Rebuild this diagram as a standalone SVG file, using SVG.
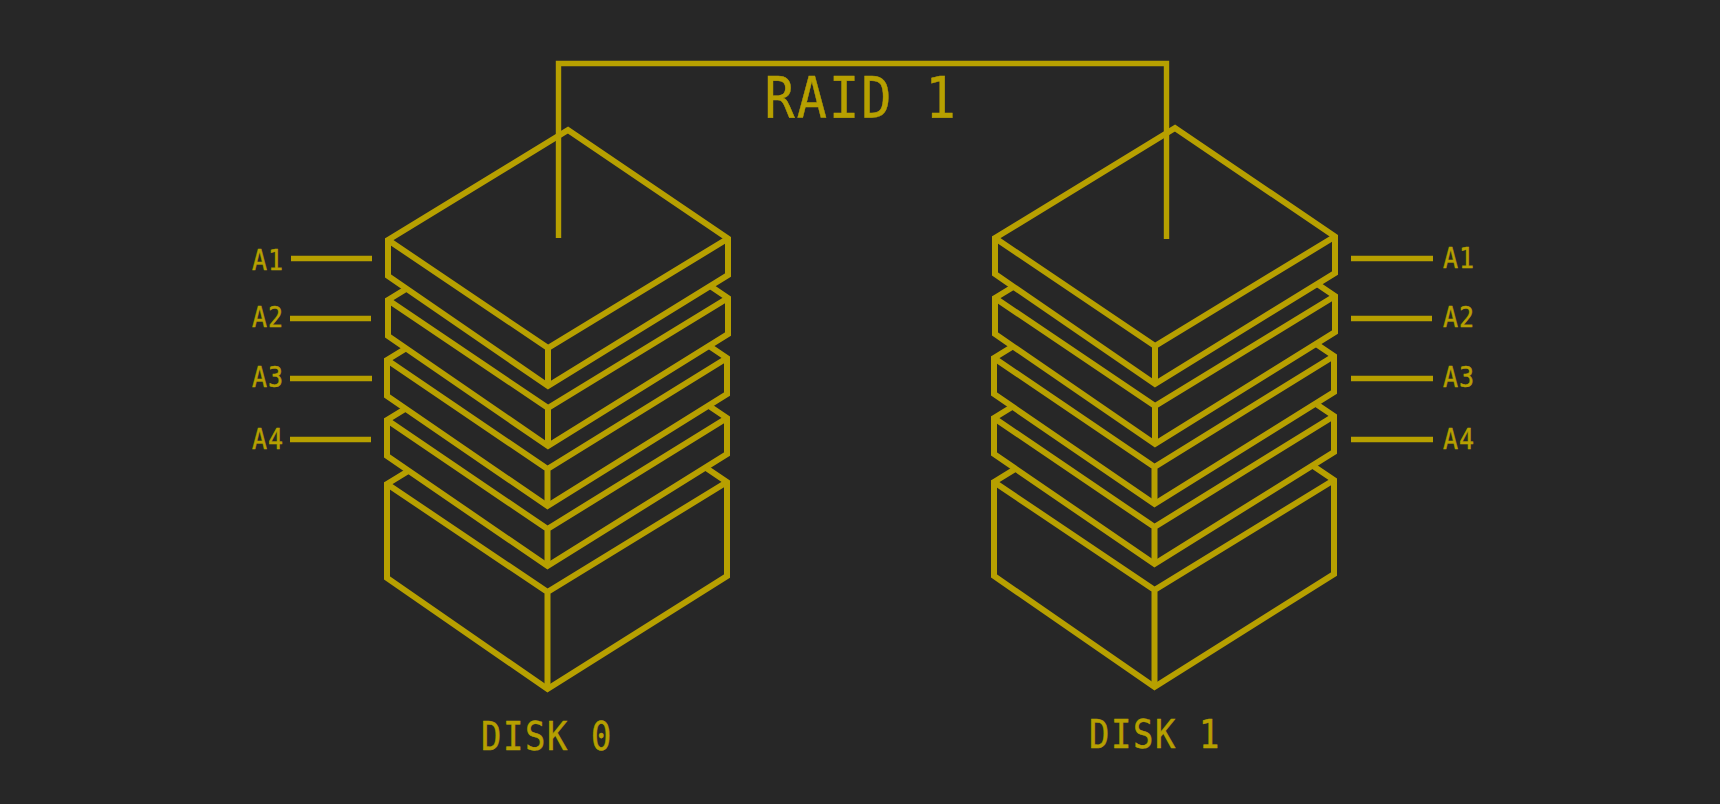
<svg xmlns="http://www.w3.org/2000/svg" width="1720" height="804" viewBox="0 0 1720 804">
<style>
.bg{fill:#272727}
.p{fill:#272727;stroke:#b7a000;stroke-width:6;stroke-linejoin:miter;stroke-miterlimit:10}
.e{fill:none;stroke:#b7a000;stroke-width:6;stroke-linejoin:miter;stroke-miterlimit:10}
.c{fill:none;stroke:#b7a000;stroke-width:5.4;stroke-linejoin:miter;stroke-linecap:butt}
text{font-family:"DejaVu Sans Mono","Liberation Mono",monospace;fill:#b7a000;stroke:#b7a000;stroke-width:.5px}
.t{font-size:57px;letter-spacing:2.3px}
.d{font-size:38.4px;letter-spacing:1.9px}
.l{font-size:28.4px;letter-spacing:1px}
</style>
<rect class="bg" width="1720" height="804"/>
<g id="disk0">
<g id="disk0-base"><path class="p" d="M387 484L567 374L727 482V576L547.5 689L387 578Z"/><path class="e" d="M387 484L547.5 592L727 482M547.5 592V689"/></g>
<g id="disk0-a4"><path class="p" d="M387 420L567 310L727 418V454L547.5 566L387 456Z"/><path class="e" d="M387 420L547.5 529L727 418M547.5 529V566"/></g>
<g id="disk0-a3"><path class="p" d="M387 360L567 250L727 358V394L547.5 506L387 396Z"/><path class="e" d="M387 360L547.5 469L727 358M547.5 469V506"/></g>
<g id="disk0-a2"><path class="p" d="M388 300L568 190L728 298V334L548 446L388 336Z"/><path class="e" d="M388 300L548 408L728 298M548 408V446"/></g>
<g id="disk0-a1"><path class="p" d="M388 240L568 130L728 238.5V275L548 386L388 276Z"/><path class="e" d="M388 240L548 348L728 238.5M548 348V386"/></g>
<text class="d" transform="translate(481 750) scale(.88 1)">DISK 0</text>
</g>
<g id="disk1">
<g id="disk1-base"><path class="p" d="M994 482L1174 372L1334 480V574L1154.500 687L994 576Z"/><path class="e" d="M994 482L1154.500 590L1334 480M1154.500 590V687"/></g>
<g id="disk1-a4"><path class="p" d="M994 418L1174 308L1334 416V452L1154.500 564L994 454Z"/><path class="e" d="M994 418L1154.500 527L1334 416M1154.500 527V564"/></g>
<g id="disk1-a3"><path class="p" d="M994 358L1174 248L1334 356V392L1154.500 504L994 394Z"/><path class="e" d="M994 358L1154.500 467L1334 356M1154.500 467V504"/></g>
<g id="disk1-a2"><path class="p" d="M995 298L1175 188L1335 296V332L1155 444L995 334Z"/><path class="e" d="M995 298L1155 406L1335 296M1155 406V444"/></g>
<g id="disk1-a1"><path class="p" d="M995 238L1175 128L1335 236.500V273L1155 384L995 274Z"/><path class="e" d="M995 238L1155 346L1335 236.500M1155 346V384"/></g>
<text class="d" transform="translate(1089 748) scale(.88 1)">DISK 1</text>
</g>
<g id="connectors">
<path class="c" d="M558.500 238V63.500H1166.500V239"/>
<path class="c" d="M291 258.500H372M290 318.500H371M290 378.500H372M290 439.500H371"/>
<path class="c" d="M1351 258.500H1433M1351 318.500H1432M1351 378.500H1433M1351 439.500H1433"/>
</g>
<g id="title"><text class="t" transform="translate(764.500 118) scale(.88 1)">RAID 1</text></g>
<g id="labels-left">
<text class="l" transform="translate(252 270) scale(.88 1)">A1</text>
<text class="l" transform="translate(252 327) scale(.88 1)">A2</text>
<text class="l" transform="translate(252 387) scale(.88 1)">A3</text>
<text class="l" transform="translate(252 449) scale(.88 1)">A4</text>
</g>
<g id="labels-right">
<text class="l" transform="translate(1443 268) scale(.88 1)">A1</text>
<text class="l" transform="translate(1443 327) scale(.88 1)">A2</text>
<text class="l" transform="translate(1443 387) scale(.88 1)">A3</text>
<text class="l" transform="translate(1443 449) scale(.88 1)">A4</text>
</g>
</svg>
